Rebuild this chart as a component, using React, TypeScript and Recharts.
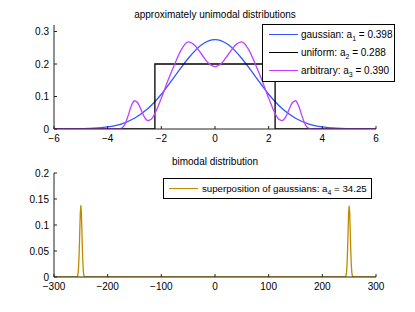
import React from 'react'
import { LineChart, Line, XAxis, YAxis } from 'recharts'

// top panel: approximately unimodal distributions
const gaussX = [-6, -5.5, -5, -4.5, -4, -3.5, -3, -2.5, -2, -1.5, -1, -0.5, 0, 0.5, 1, 1.5, 2, 2.5, 3, 3.5, 4, 4.5, 5, 5.5, 6]
const gaussY = [0, 0.0002, 0.0008, 0.0023, 0.0063, 0.0153, 0.033, 0.063, 0.107, 0.162, 0.217, 0.259, 0.275, 0.259, 0.217, 0.162, 0.107, 0.063, 0.033, 0.0153, 0.0063, 0.0023, 0.0008, 0.0002, 0]

const uniformX = [-6, -2.24, -2.24, 2.24, 2.24, 6]
const uniformY = [0, 0, 0.2, 0.2, 0, 0]

const arbX = [
  -6, -4, -3.75, -3.5, -3.375, -3.25, -3.125, -3, -2.875, -2.75, -2.625, -2.5, -2.375, -2.25, -2, -1.75, -1.5, -1.25, -1, -0.75, -0.5, -0.25,
  0,
  0.25, 0.5, 0.75, 1, 1.25, 1.5, 1.75, 2, 2.25, 2.375, 2.5, 2.625, 2.75, 2.875, 3, 3.125, 3.25, 3.375, 3.5, 3.75, 4, 6,
]
const arbY = [
  0, 0, 0, 0.002, 0.012, 0.038, 0.07, 0.087, 0.08, 0.058, 0.036, 0.026, 0.03, 0.046, 0.095, 0.15, 0.2, 0.245, 0.268, 0.257, 0.23, 0.203,
  0.192,
  0.203, 0.23, 0.257, 0.268, 0.245, 0.2, 0.15, 0.095, 0.046, 0.03, 0.026, 0.036, 0.058, 0.08, 0.087, 0.07, 0.038, 0.012, 0.002, 0, 0, 0,
]

const topXTicks = [-6, -4, -2, 0, 2, 4, 6]
const topYTicks = [0, 0.1, 0.2, 0.3]

// bottom panel: bimodal distribution
const bimodalX = [
  -300, -258, -257, -256, -255, -254, -253, -252, -251, -250, -249, -248, -247, -246, -245, -244, -243, -242,
  242, 243, 244, 245, 246, 247, 248, 249, 250, 251, 252, 253, 254, 255, 256, 257, 258, 300,
]
const bimodalY = [
  0, 0, 0.0005, 0.002, 0.008, 0.023, 0.05, 0.088, 0.123, 0.138, 0.123, 0.088, 0.05, 0.023, 0.008, 0.002, 0.0005, 0,
  0, 0.0005, 0.002, 0.008, 0.023, 0.05, 0.088, 0.123, 0.137, 0.123, 0.088, 0.05, 0.023, 0.008, 0.002, 0.0005, 0, 0,
]

const bottomXTicks = [-300, -200, -100, 0, 100, 200, 300]
const bottomYTicks = [0, 0.05, 0.1, 0.15, 0.2]

const toPoints = (xs: number[], ys: number[]) => xs.map((x, i) => ({ x, y: ys[i] }))

const font = '"Liberation Sans", Arial, Helvetica, sans-serif'
const tickStyle = { fill: '#000', fontSize: 10, fontFamily: font }
const fmt = (v: number) => (v < 0 ? '\u2212' + Math.abs(v) : String(v))

const Sub = ({ children }: { children: React.ReactNode }) => (
  <span style={{ fontSize: 7, position: 'relative', top: 3 }}>{children}</span>
)

function Frame({ xDomain, xTicks, yDomain, yTicks }: { xDomain: number[]; xTicks: number[]; yDomain: number[]; yTicks: number[] }) {
  // axes on all four sides, ticks pointing inward like the original figure
  return [
    <XAxis key="xb" xAxisId={0} type="number" dataKey="x" domain={xDomain} ticks={xTicks} allowDataOverflow
      tickSize={-3} tickMargin={9} height={20} tick={tickStyle} tickFormatter={fmt}
      axisLine={{ stroke: '#222' }} tickLine={{ stroke: '#222' }} />,
    <XAxis key="xt" xAxisId="top" orientation="top" type="number" dataKey="x" domain={xDomain} ticks={xTicks} allowDataOverflow
      tickSize={-3} height={0} tick={false} axisLine={{ stroke: '#222' }} tickLine={{ stroke: '#222' }} />,
    <YAxis key="yl" yAxisId={0} type="number" domain={yDomain} ticks={yTicks} allowDataOverflow
      tickSize={-3} tickMargin={8} width={40} tick={tickStyle}
      axisLine={{ stroke: '#222' }} tickLine={{ stroke: '#222' }} />,
    <YAxis key="yr" yAxisId="right" orientation="right" type="number" domain={yDomain} ticks={yTicks} allowDataOverflow
      tickSize={-3} width={0} tick={false} axisLine={{ stroke: '#222' }} tickLine={{ stroke: '#222' }} />,
  ]
}

export default function App() {
  const margin = { top: 25, right: 39, bottom: 1, left: 14 }
  return (
    <div style={{ position: 'absolute', left: 0, top: 0, width: 415, height: 312, background: '#fff', fontFamily: font, color: '#000' }}>
      <div style={{ position: 'absolute', left: 54, width: 322, top: 9, fontSize: 10, lineHeight: '12px', textAlign: 'center' }}>
        approximately unimodal distributions
      </div>
      <div style={{ position: 'absolute', left: 0, top: 0 }}>
        <LineChart width={415} height={150} margin={margin}>
          {Frame({ xDomain: [-6, 6], xTicks: topXTicks, yDomain: [0, 0.32], yTicks: topYTicks })}
          <Line data={toPoints(gaussX, gaussY)} dataKey="y" type="monotone" stroke="#3355ff" strokeWidth={1.3} dot={false} isAnimationActive={false} />
          <Line data={toPoints(uniformX, uniformY)} dataKey="y" type="linear" stroke="#000" strokeWidth={1.3} dot={false} isAnimationActive={false} />
          <Line data={toPoints(arbX, arbY)} dataKey="y" type="monotone" stroke="#bf40ff" strokeWidth={1.3} dot={false} isAnimationActive={false} />
        </LineChart>
      </div>
      <div style={{ position: 'absolute', left: 262, top: 24, width: 131, height: 56, border: '1px solid #000', background: '#fff', fontSize: 10 }}>
        {[
          { color: '#3355ff', label: 'gaussian: a', sub: '1', value: ' = 0.398' },
          { color: '#000', label: 'uniform: a', sub: '2', value: ' = 0.288' },
          { color: '#bf40ff', label: 'arbitrary: a', sub: '3', value: ' = 0.390' },
        ].map((e, i) => (
          <div key={i} style={{ position: 'absolute', left: 6, top: 2 + i * 18.2, height: 14, display: 'flex', alignItems: 'center', whiteSpace: 'nowrap' }}>
            <span style={{ display: 'inline-block', width: 29, height: 0, borderTop: `1.3px solid ${e.color}`, marginRight: 3 }} />
            <span>{e.label}<Sub>{e.sub}</Sub>{e.value}</span>
          </div>
        ))}
      </div>

      <div style={{ position: 'absolute', left: 54, width: 322, top: 156, fontSize: 10, lineHeight: '12px', textAlign: 'center' }}>
        bimodal distribution
      </div>
      <div style={{ position: 'absolute', left: 0, top: 148 }}>
        <LineChart width={415} height={150} margin={margin}>
          {Frame({ xDomain: [-300, 300], xTicks: bottomXTicks, yDomain: [0, 0.2], yTicks: bottomYTicks })}
          <Line data={toPoints(bimodalX, bimodalY)} dataKey="y" type="linear" stroke="#bf8a00" strokeWidth={1.3} dot={false} isAnimationActive={false} />
        </LineChart>
      </div>
      <div style={{ position: 'absolute', left: 163, top: 178, width: 207, height: 19, border: '1px solid #000', background: '#fff', fontSize: 9.7 }}>
        <div style={{ position: 'absolute', left: 5, top: 2, height: 14, display: 'flex', alignItems: 'center', whiteSpace: 'nowrap' }}>
          <span style={{ display: 'inline-block', width: 29, height: 0, borderTop: '1.3px solid #bf8a00', marginRight: 4 }} />
          <span>superposition of gaussians: a<Sub>4</Sub> = 34.25</span>
        </div>
      </div>
    </div>
  )
}
